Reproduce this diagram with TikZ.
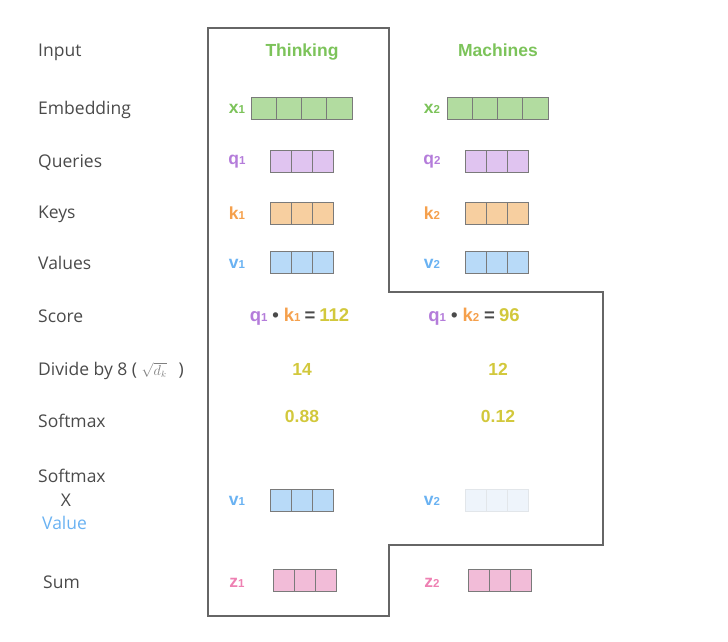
\documentclass[tikz,border=0pt]{standalone}
\usepackage{fontspec}
\setmainfont{Open Sans}
\newfontfamily\hv{Liberation Sans}
\definecolor{labgray}{HTML}{4A4A4A}
\definecolor{frame}{HTML}{666666}
\definecolor{cellline}{HTML}{7A7A7A}
\definecolor{grn}{HTML}{7CC35A}
\definecolor{grnfill}{HTML}{B2DCA0}
\definecolor{pur}{HTML}{B47CDA}
\definecolor{purfill}{HTML}{E0C4F0}
\definecolor{org}{HTML}{F5A04C}
\definecolor{orgfill}{HTML}{F7CFA0}
\definecolor{blu}{HTML}{6AB2F2}
\definecolor{blufill}{HTML}{B8DAF8}
\definecolor{pnk}{HTML}{EE80B2}
\definecolor{pnkfill}{HTML}{F2BCD8}
\definecolor{ylw}{HTML}{D2C83C}
\definecolor{dim}{HTML}{EEF4FB}
\definecolor{dimline}{HTML}{E2E6EA}
\newcommand\subn[1]{{\fontsize{11.5}{11.5}\selectfont #1}}
\tikzset{
  x=1pt, y=-1pt,
  rowlab/.style={anchor=base west, inner sep=0, font=\fontsize{17.5}{20}\selectfont, text=labgray},
  var/.style={inner sep=0, font=\hv\bfseries\fontsize{17.5}{20}\selectfont},
  word/.style={anchor=base, inner sep=0, font=\hv\bfseries\fontsize{17.5}{20}\selectfont, text=grn},
  num/.style={inner sep=0, font=\hv\bfseries\fontsize{17.5}{20}\selectfont, text=ylw},
  score/.style={inner sep=0, font=\hv\bfseries\fontsize{18.5}{20}\selectfont},
  cell/.style={draw=cellline, line width=0.9pt, minimum height=22, inner sep=0},
  frameline/.style={draw=frame, line width=1.1pt}
}
\begin{document}
\begin{tikzpicture}
\useasboundingbox (0,0) rectangle (728,641);
% frame
\draw[frameline] (208,28) -- (389,28) -- (389,292) -- (603,292) -- (603,545) -- (389,545) -- (389,616) -- (208,616) -- cycle;
% row labels
\node[rowlab] (lInput) at (38,56) {Input};
\node[rowlab] (lEmb) at (38,114) {Embedding};
\node[rowlab] (lQ) at (38,167) {Queries};
\node[rowlab] (lK) at (38,218) {Keys};
\node[rowlab] (lV) at (38,269) {Values};
\node[rowlab] (lScore) at (38,322) {Score};
\node[rowlab] (lDiv) at (38,375) {Divide by 8 ( {\color{gray}\fontsize{13.5}{13.5}\selectfont$\sqrt{d_k}$}\hspace{12pt})};
\node[rowlab] (lSm) at (38,427) {Softmax};
\node[rowlab] (lSmv) at (38,482) {Softmax};
\node[rowlab, anchor=base] (lX) at (66,506) {X};
\node[rowlab, text=blu] (lVal) at (42,529) {Value};
\node[rowlab] (lSum) at (43,588) {Sum};
% words
\node[word] (w1) at (302,56) {Thinking};
\node[word] (w2) at (498,56) {Machines};
% embeddings
\node[var, text=grn] (x1) at (237,109) {x\subn{1}};
\node[var, text=grn] (x2) at (432,109) {x\subn{2}};
\foreach \i in {0,...,3} {
  \node[cell, fill=grnfill, minimum width=25.25] (ea\i) at (263.6+25.25*\i,108) {};
  \node[cell, fill=grnfill, minimum width=25.25] (eb\i) at (459.6+25.25*\i,108) {};
}
% q k v
\node[var, text=pur] (q1) at (237,162) {q\subn{1}};
\node[var, text=pur] (q2) at (432,162) {q\subn{2}};
\node[var, text=org] (k1) at (237,213) {k\subn{1}};
\node[var, text=org] (k2) at (432,213) {k\subn{2}};
\node[var, text=blu] (v1) at (237,264) {v\subn{1}};
\node[var, text=blu] (v2) at (432,264) {v\subn{2}};
\foreach \i in {0,...,2} {
  \node[cell, fill=purfill, minimum width=21] (qa\i) at (280.5+21*\i,161) {};
  \node[cell, fill=purfill, minimum width=21] (qb\i) at (475.5+21*\i,161) {};
  \node[cell, fill=orgfill, minimum width=21] (ka\i) at (280.5+21*\i,213.5) {};
  \node[cell, fill=orgfill, minimum width=21] (kb\i) at (475.5+21*\i,213.5) {};
  \node[cell, fill=blufill, minimum width=21] (va\i) at (280.5+21*\i,262.5) {};
  \node[cell, fill=blufill, minimum width=21] (vb\i) at (475.5+21*\i,262.5) {};
}
% score
\node[score] (s1) at (299.5,317) {\color{pur}q\subn{1}\hspace{5pt}\color{labgray}\textbullet\hspace{5pt}\color{org}k\subn{1}\hspace{4pt}\color{labgray}=\hspace{4pt}\color{ylw}112};
\node[score] (s2) at (474,317) {\color{pur}q\subn{1}\hspace{5pt}\color{labgray}\textbullet\hspace{5pt}\color{org}k\subn{2}\hspace{5pt}\color{labgray}=\hspace{4pt}\color{ylw}96};
% numbers
\node[num] (d1) at (302,369) {14};
\node[num] (d2) at (498,369) {12};
\node[num] (m1) at (302,416) {0.88};
\node[num] (m2) at (498,416) {0.12};
% weighted values
\node[var, text=blu] (wv1) at (237,501) {v\subn{1}};
\node[var, text=blu] (wv2) at (432,501) {v\subn{2}};
\foreach \i in {0,...,2} {
  \node[cell, fill=blufill, minimum width=21] (wa\i) at (280.5+21*\i,500.5) {};
  \node[cell, fill=dim, draw=dimline, minimum width=21] (wb\i) at (475.5+21*\i,500.5) {};
}
% sums
\node[var, text=pnk] (z1) at (237,583) {z\subn{1}};
\node[var, text=pnk] (z2) at (432,583) {z\subn{2}};
\foreach \i in {0,...,2} {
  \node[cell, fill=pnkfill, minimum width=21.3] (za\i) at (283.6+21.3*\i,580.5) {};
  \node[cell, fill=pnkfill, minimum width=21.3] (zb\i) at (478.6+21.3*\i,580.5) {};
}
\end{tikzpicture}
\end{document}
